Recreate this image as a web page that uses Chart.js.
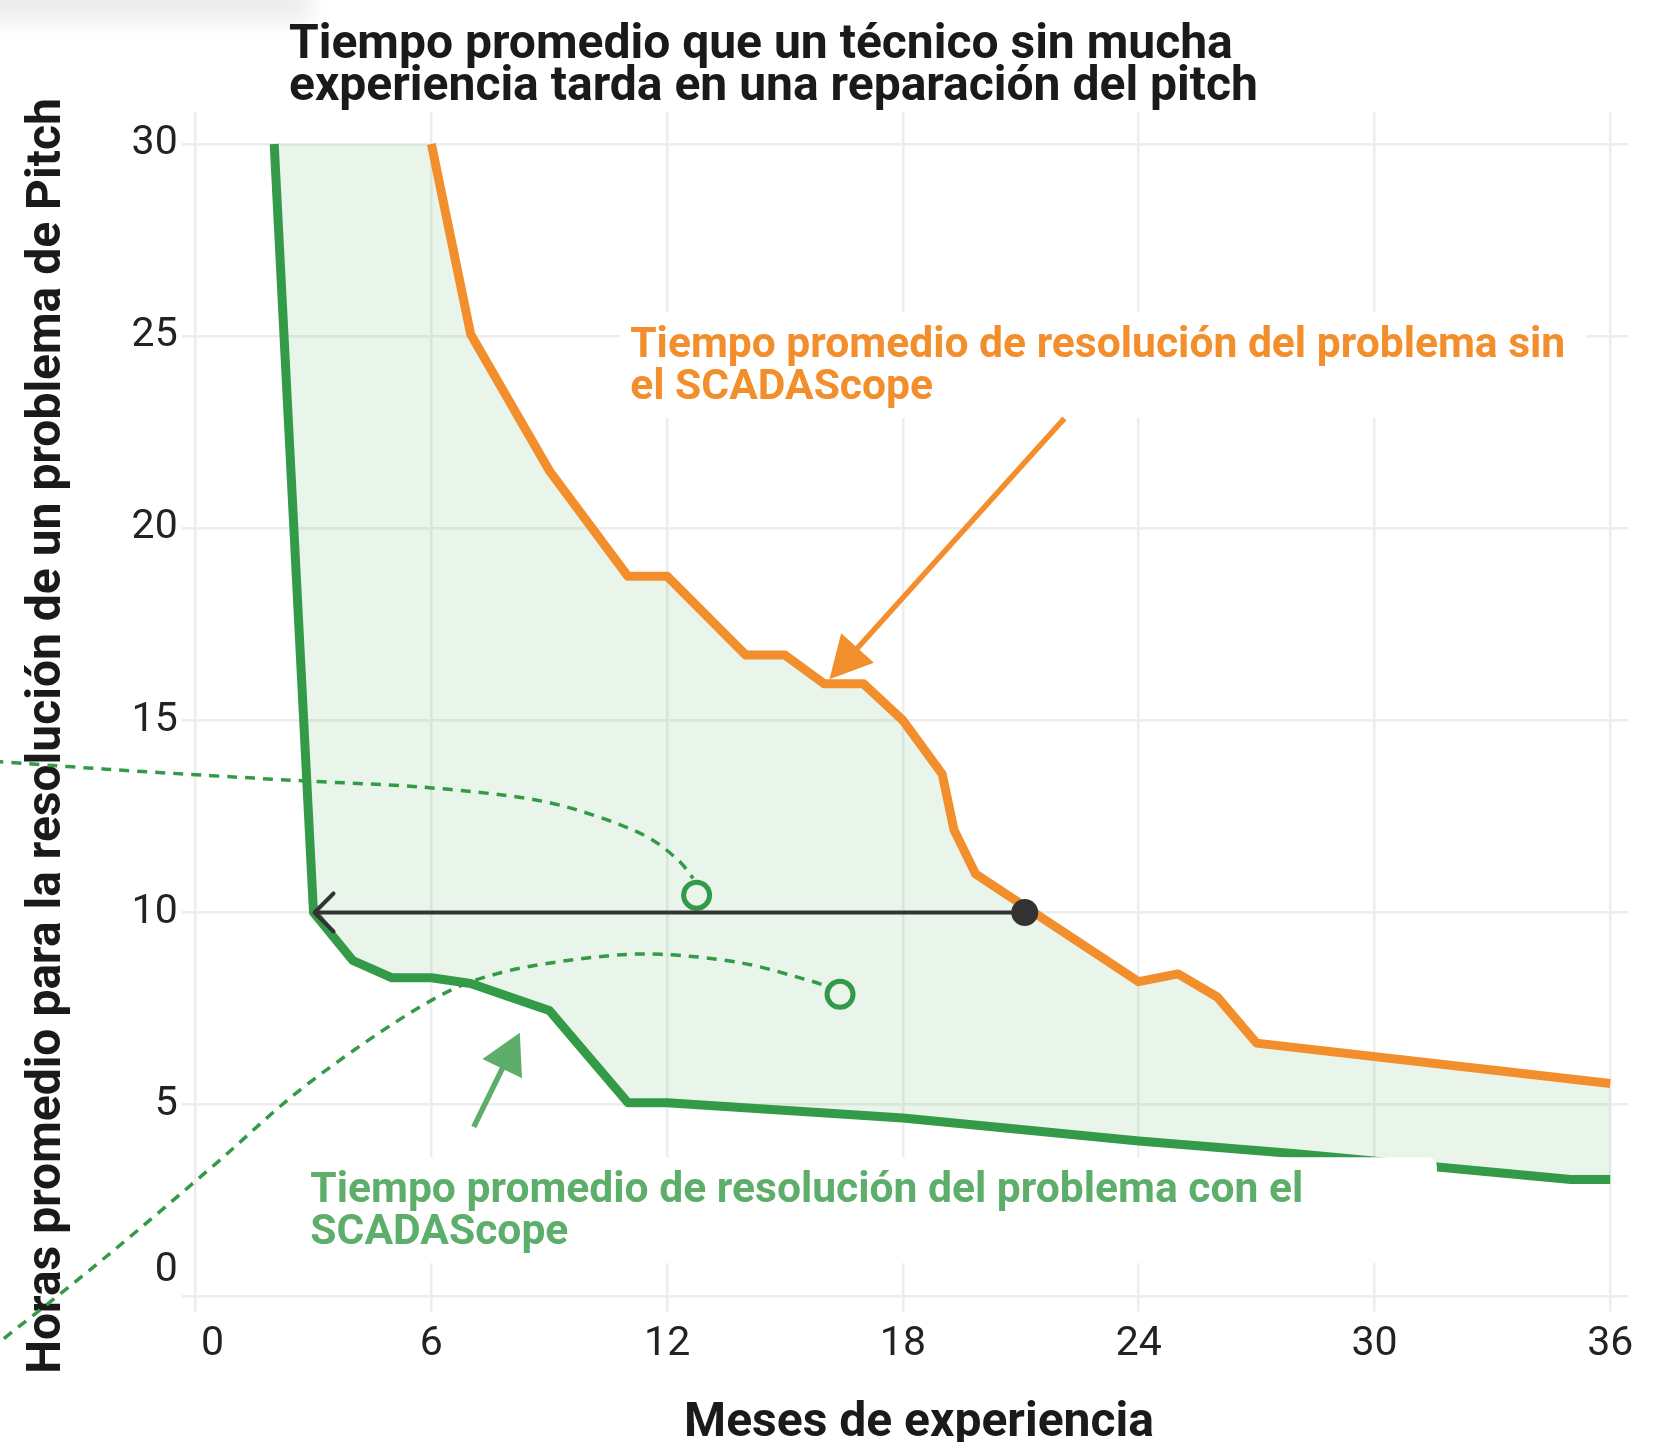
<!DOCTYPE html>
<html><head><meta charset="utf-8">
<script src="https://cdn.jsdelivr.net/npm/chart.js@4/dist/chart.umd.min.js"></script>
<style>html,body{margin:0;padding:0;background:#fff;overflow:hidden}canvas{display:block}</style>
</head><body>
<canvas id="c" width="1659" height="1442"></canvas>
<script>
// ---------- text ----------
const titleLines = ['Tiempo promedio que un técnico sin mucha', 'experiencia tarda en una reparación del pitch'];
const xAxisTitle = 'Meses de experiencia';
const yAxisTitle = 'Horas promedio para la resolución de un problema de Pitch';
const orangeNote = ['Tiempo promedio de resolución del problema sin', 'el SCADAScope'];
const greenNote = ['Tiempo promedio de resolución del problema con el', 'SCADAScope'];

// ---------- axes ----------
const xTicks = [0, 6, 12, 18, 24, 30, 36];
const yTicks = [0, 5, 10, 15, 20, 25, 30];

// ---------- series ----------
const withMonths = [2, 3, 4, 5, 6, 7, 9, 11, 12, 18, 24, 28, 35, 36];
const withHours  = [30, 10, 8.75, 8.3, 8.3, 8.15, 7.45, 5.05, 5.05, 4.65, 4.05, 3.72, 3.05, 3.05];
const withoutMonths = [6, 7, 9, 11, 12, 14, 15, 16, 17, 18, 19, 19.3, 19.85, 24, 25, 26, 27, 36];
const withoutHours  = [30, 25.05, 21.5, 18.75, 18.75, 16.7, 16.7, 15.95, 15.95, 15.0, 13.6, 12.15, 11.0, 8.2, 8.4, 7.8, 6.6, 5.55];

// ---------- annotation anchors (data units) ----------
const refPoint = [21.1, 10];
const refTarget = [3, 10];
const markerA = [12.75, 10.45];
const markerB = [16.4, 7.87];
const curveAX = [-5.6, -4.98, -2.29, 0.41, 2.83, 5.79, 8.48, 10.10, 11.45, 12.25, 12.66];
const curveAY = [13.95, 13.92, 13.73, 13.56, 13.42, 13.26, 12.96, 12.54, 11.99, 11.39, 10.89];
const curveBX = [-5.6, -4.98, -2.28, 0.41, 2.83, 5.79, 7.68, 10.10, 11.85, 13.87, 15.48, 15.95];
const curveBY = [-1.65, -1.17, 1.04, 3.37, 5.52, 7.59, 8.41, 8.83, 8.91, 8.69, 8.27, 8.12];
const orangeArrowFrom = [22.11, 22.86], orangeArrowTo = [16.13, 16.07];
const greenArrowFrom = [7.08, 4.42], greenArrowTo = [8.25, 6.87];
const orangeBoxX = [10.8, 35.38], orangeBoxY = [22.87, 25.62];
const greenBoxX = [2.61, 31.59], greenBoxY = [0.87, 3.63];
const orangeTextAt = [11.06, 24.45];
const greenTextAt = [2.92, 2.46];

// ---------- styles ----------
const GREEN = '#339A47', ORANGE = '#F28E2B', LIGHTGREEN = '#5DAE6B';
const FILL = 'rgba(51,154,71,0.11)', DARK = '#333333', GRID = '#EDEDED', TXT = '#1A1A1A';
const FONT = 'Roboto';

const toPts = (xs, ys) => xs.map((x, i) => ({x, y: ys[i]}));
const bandPts = toPts(withMonths, withHours).concat(toPts(withoutMonths, withoutHours).reverse());

function smoothPath(ctx, pts) {
  ctx.moveTo(pts[0][0], pts[0][1]);
  for (let i = 0; i < pts.length - 1; i++) {
    const p0 = pts[i - 1] || pts[i], p1 = pts[i], p2 = pts[i + 1], p3 = pts[i + 2] || p2;
    ctx.bezierCurveTo(p1[0] + (p2[0] - p0[0]) / 6, p1[1] + (p2[1] - p0[1]) / 6,
                      p2[0] - (p3[0] - p1[0]) / 6, p2[1] - (p3[1] - p1[1]) / 6, p2[0], p2[1]);
  }
}
function roundRect(ctx, x0, y0, x1, y1, r) {
  ctx.beginPath();
  ctx.moveTo(x0 + r, y0); ctx.lineTo(x1 - r, y0); ctx.quadraticCurveTo(x1, y0, x1, y0 + r);
  ctx.lineTo(x1, y1 - r); ctx.quadraticCurveTo(x1, y1, x1 - r, y1); ctx.lineTo(x0 + r, y1);
  ctx.quadraticCurveTo(x0, y1, x0, y1 - r); ctx.lineTo(x0, y0 + r); ctx.quadraticCurveTo(x0, y0, x0 + r, y0);
  ctx.closePath();
}
function arrow(ctx, a, b, color, w, headLen, headHalf) {
  const dx = b[0] - a[0], dy = b[1] - a[1], L = Math.hypot(dx, dy), ux = dx / L, uy = dy / L;
  const bx = b[0] - ux * headLen, by = b[1] - uy * headLen;
  ctx.strokeStyle = color; ctx.fillStyle = color; ctx.lineWidth = w; ctx.lineCap = 'butt'; ctx.setLineDash([]);
  ctx.beginPath(); ctx.moveTo(a[0], a[1]); ctx.lineTo(bx + ux * 2, by + uy * 2); ctx.stroke();
  ctx.beginPath(); ctx.moveTo(b[0], b[1]);
  ctx.lineTo(bx - uy * headHalf, by + ux * headHalf); ctx.lineTo(bx + uy * headHalf, by - ux * headHalf);
  ctx.closePath(); ctx.fill();
}

const decor = {
  id: 'decor',
  beforeDraw(chart) {
    const ctx = chart.ctx;
    ctx.save();
    ctx.fillStyle = '#ffffff'; ctx.fillRect(0, 0, chart.width, chart.height);
    ctx.filter = 'blur(10px)';
    ctx.fillStyle = 'rgba(0,0,0,0.07)';
    ctx.fillRect(-40, -40, 350, 62);
    ctx.restore();
  },
  afterDatasetsDraw(chart) {
    const ctx = chart.ctx, xs = chart.scales.x, ys = chart.scales.y, ca = chart.chartArea;
    const P = (p) => [xs.getPixelForValue(p[0]), ys.getPixelForValue(p[1])];
    ctx.save();
    // white note boxes
    ctx.fillStyle = '#ffffff';
    roundRect(ctx, xs.getPixelForValue(orangeBoxX[0]), ys.getPixelForValue(orangeBoxY[1]),
              xs.getPixelForValue(orangeBoxX[1]), ys.getPixelForValue(orangeBoxY[0]), 10); ctx.fill();
    roundRect(ctx, xs.getPixelForValue(greenBoxX[0]), ys.getPixelForValue(greenBoxY[1]),
              xs.getPixelForValue(greenBoxX[1]), ys.getPixelForValue(greenBoxY[0]), 10); ctx.fill();

    // titles
    ctx.fillStyle = TXT; ctx.textAlign = 'left'; ctx.textBaseline = 'alphabetic';
    ctx.font = `700 48px ${FONT}`;
    ctx.fillText(titleLines[0], 289, 58);
    ctx.fillText(titleLines[1], 289, 100);
    ctx.textAlign = 'center';
    ctx.fillText(xAxisTitle, 919, 1436);
    ctx.save();
    ctx.translate(48, 736); ctx.rotate(-Math.PI / 2);
    ctx.textBaseline = 'middle';
    ctx.fillText(yAxisTitle, 0, 0);
    ctx.restore();

    // zero tick labels (offset as in the original)
    ctx.font = `400 41px ${FONT}`; ctx.fillStyle = '#222222'; ctx.textBaseline = 'middle';
    ctx.textAlign = 'center';
    ctx.fillText('0', xs.getPixelForValue(0) + 17, ca.bottom + 8 + 24.6);
    ctx.textAlign = 'right';
    ctx.fillText('0', ca.left - 4, ys.getPixelForValue(0) - 26);

    // notes
    ctx.textAlign = 'left'; ctx.textBaseline = 'alphabetic';
    ctx.font = `700 42.6px ${FONT}`;
    let t = P(orangeTextAt);
    ctx.fillStyle = ORANGE;
    ctx.fillText(orangeNote[0], t[0], t[1]); ctx.fillText(orangeNote[1], t[0], t[1] + 42);
    t = P(greenTextAt);
    ctx.fillStyle = LIGHTGREEN;
    ctx.fillText(greenNote[0], t[0], t[1]); ctx.fillText(greenNote[1], t[0], t[1] + 42);

    // dashed curves
    ctx.strokeStyle = GREEN; ctx.lineWidth = 3.5; ctx.setLineDash([10, 8]); ctx.lineCap = 'butt';
    ctx.beginPath(); smoothPath(ctx, curveAX.map((x, i) => P([x, curveAY[i]]))); ctx.stroke();
    ctx.beginPath(); smoothPath(ctx, curveBX.map((x, i) => P([x, curveBY[i]]))); ctx.stroke();
    ctx.setLineDash([]);
    // open markers
    ctx.lineWidth = 5;
    for (const m of [markerA, markerB]) {
      const c = P(m);
      ctx.beginPath(); ctx.arc(c[0], c[1], 13, 0, Math.PI * 2); ctx.stroke();
    }
    // reference arrow
    const a = P(refPoint), b = P(refTarget);
    ctx.strokeStyle = DARK; ctx.lineWidth = 4; ctx.lineCap = 'round'; ctx.lineJoin = 'round';
    ctx.beginPath(); ctx.moveTo(a[0], a[1]); ctx.lineTo(b[0] + 2, b[1]); ctx.stroke();
    ctx.beginPath(); ctx.moveTo(b[0] + 20, b[1] - 19); ctx.lineTo(b[0] + 1, b[1]); ctx.lineTo(b[0] + 20, b[1] + 19); ctx.stroke();
    ctx.fillStyle = DARK; ctx.beginPath(); ctx.arc(a[0], a[1], 13.5, 0, Math.PI * 2); ctx.fill();
    // note arrows
    arrow(ctx, P(orangeArrowFrom), P(orangeArrowTo), ORANGE, 5.5, 42, 22);
    arrow(ctx, P(greenArrowFrom), P(greenArrowTo), LIGHTGREEN, 5.5, 40, 22);
    ctx.restore();
  }
};

new Chart(document.getElementById('c'), {
  type: 'line',
  data: {
    datasets: [
      { label: 'Con SCADAScope', data: toPts(withMonths, withHours), borderColor: GREEN, borderWidth: 9,
        borderJoinStyle: 'round', pointRadius: 0, fill: false, tension: 0 },
      { label: 'Sin SCADAScope', data: toPts(withoutMonths, withoutHours), borderColor: ORANGE, borderWidth: 9,
        borderJoinStyle: 'round', pointRadius: 0, fill: false, tension: 0 },
      { label: 'Diferencia', data: bandPts, borderWidth: 0, borderColor: 'rgba(0,0,0,0)', backgroundColor: FILL,
        fill: 'shape', pointRadius: 0, tension: 0 }
    ]
  },
  options: {
    responsive: false, animation: false, events: [],
    layout: { padding: { top: 111.7, left: 0, right: 30.7, bottom: 0 } },
    plugins: { legend: { display: false }, tooltip: { enabled: false }, title: { display: false } },
    scales: {
      x: {
        type: 'linear', min: -0.354, max: 36.46,
        afterBuildTicks: s => { s.ticks = xTicks.map(v => ({ value: v })); },
        afterFit: s => { s.height = 130.3; },
        grid: { color: GRID, lineWidth: 2.5, drawTicks: false },
        border: { display: false },
        ticks: { padding: 8, color: '#222222', font: { family: FONT, size: 41 }, maxRotation: 0, autoSkip: false,
                 callback: v => v === 0 ? '' : String(v) }
      },
      y: {
        type: 'linear', min: -0.39, max: 30.84,
        afterBuildTicks: s => { s.ticks = yTicks.map(v => ({ value: v })); },
        afterFit: s => { s.width = 181.7; },
        grid: { color: GRID, lineWidth: 2.5, drawTicks: false },
        border: { display: false },
        ticks: { padding: 4, color: '#222222', font: { family: FONT, size: 41 }, autoSkip: false,
                 callback: v => v === 0 ? '' : String(v) }
      }
    }
  },
  plugins: [decor]
});
</script>
</body></html>
